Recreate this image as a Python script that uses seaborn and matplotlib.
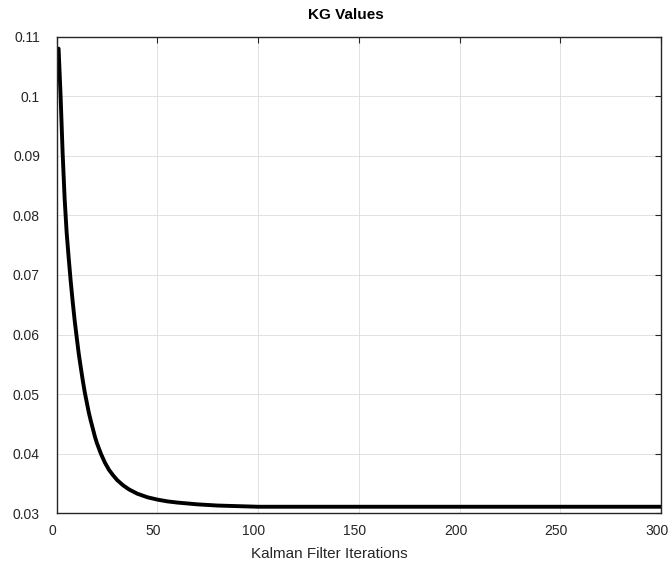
import matplotlib
matplotlib.use("Agg")
import matplotlib.pyplot as plt
import matplotlib.transforms as mtransforms
import seaborn as sns
import pandas as pd
from matplotlib.ticker import FuncFormatter

iterations = [1, 2, 3, 4, 5, 6, 7, 8, 9, 10, 11, 12, 13, 14, 15, 16, 17, 18, 19, 20,
              22, 24, 26, 28, 30, 33, 36, 40, 45, 50, 55, 60, 70, 80, 90, 100,
              150, 200, 250, 300]
kg_values = [0.1080, 0.1000, 0.0905, 0.0828, 0.0771, 0.0729, 0.0690, 0.0655, 0.0623,
             0.0595, 0.0568, 0.0545, 0.0523, 0.0503, 0.0486, 0.0469, 0.0455, 0.0442,
             0.0429, 0.0418, 0.0400, 0.0385, 0.0373, 0.0364, 0.0356, 0.0347, 0.0340,
             0.0333, 0.0327, 0.0323, 0.0320, 0.0318, 0.0315, 0.0313, 0.0312, 0.0311,
             0.0311, 0.0311, 0.0311, 0.0311]
x_ticks = [0, 50, 100, 150, 200, 250, 300]
y_ticks = [0.03, 0.04, 0.05, 0.06, 0.07, 0.08, 0.09, 0.10, 0.11]

title = "KG Values"
xlabel = "Kalman Filter Iterations"

sns.set_style("white")
plt.rcParams["font.family"] = ["Liberation Sans", "DejaVu Sans"]

df = pd.DataFrame({"iter": iterations, "kg": kg_values})

fig = plt.figure(figsize=(6.68, 5.68), dpi=100)
ax = fig.add_axes([0.0847, 0.0963, 0.9048, 0.8391])

sns.lineplot(data=df, x="iter", y="kg", ax=ax, color="black", linewidth=2.8)

ax.set_xlim(0, 300)
ax.set_ylim(0.03, 0.11)
ax.set_xticks(x_ticks)
ax.set_yticks(y_ticks)
ax.yaxis.set_major_formatter(FuncFormatter(lambda v, p: f"{v:g}"))

ax.grid(True, color="#dcdcdc", linewidth=0.6)
ax.set_axisbelow(True)
for s in ax.spines.values():
    s.set_color("#262626")
    s.set_linewidth(1.0)

ax.tick_params(axis="both", direction="in", length=4.5, width=0.8, color="#262626",
               labelcolor="#262626", labelsize=10, top=True, right=True)
ax.tick_params(axis="y", pad=12)
ax.tick_params(axis="x", pad=8)

shift = mtransforms.ScaledTranslation(-4 / 100, 0, fig.dpi_scale_trans)
for lab in ax.get_xticklabels():
    lab.set_transform(lab.get_transform() + shift)

ax.set_title(title, fontsize=11, fontweight="bold", color="black", pad=12.5, x=0.478)
ax.set_xlabel(xlabel, fontsize=11, color="#262626", labelpad=6, x=0.451)
ax.set_ylabel("")

fig.savefig("out.png", dpi=100)
